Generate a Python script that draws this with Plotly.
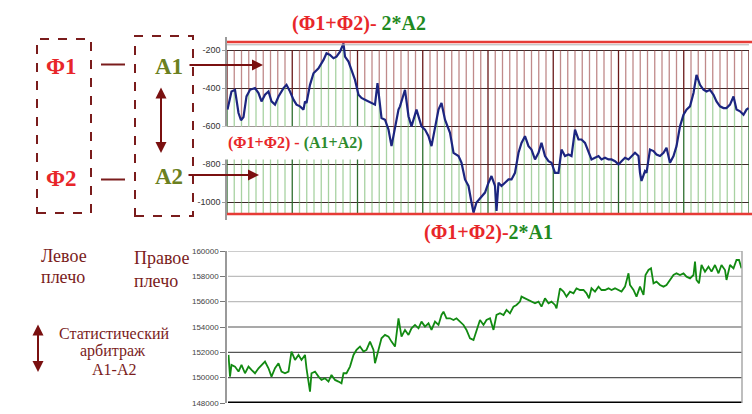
import numpy as np
import plotly.graph_objects as go

# ---------------- data ----------------
# top chart: spread (Φ1+Φ2) - (A1+A2)
top_days = [1, 9, 16, 23, 28, 33, 39, 46, 56, 63, 69, 76, 83, 89, 96, 103, 113, 119, 126, 133,
            139, 146, 153, 156, 159, 166, 173, 183, 193, 199, 206, 213, 219, 226, 233, 236, 243, 249, 256, 263,
            269, 276, 283, 289, 296, 301, 309, 316, 323, 329, 336, 343, 346, 356, 363, 369, 379, 389, 396, 403,
            409, 416, 423, 429, 436, 446, 453, 463, 469, 476, 483, 489, 493, 499, 509, 516, 523, 529, 536, 539,
            543, 549, 556, 563, 569, 576, 583, 589, 596, 603, 609, 616, 623, 629, 636, 643, 649, 656, 663, 669,
            676, 683, 689, 696, 703, 709, 716, 723, 729, 736, 743, 749, 756, 763, 769, 776, 783, 789, 796, 803,
            809, 816, 823, 826, 829, 836, 839, 846, 853, 859, 866, 873, 879, 886, 893, 899, 906, 913, 919, 926,
            933, 939, 946, 953, 959, 966, 973, 979, 986, 993, 999, 1006, 1013, 1019, 1026, 1033, 1039, 1043]
top_spread = [-513, -418, -409, -531, -569, -552, -444, -409, -400, -426, -470, -435, -418, -470, -487, -444, -400, -383, -418, -461,
              -487, -496, -513, -470, -478, -383, -322, -296, -252, -217, -226, -243, -235, -209, -165, -235, -261, -305, -357, -435,
              -452, -461, -470, -478, -487, -374, -557, -566, -618, -705, -600, -513, -496, -409, -548, -601, -513, -601, -618, -653,
              -705, -618, -513, -478, -566, -635, -740, -757, -792, -880, -914, -1001, -1054, -1001, -967, -949, -897, -862, -914, -1045,
              -897, -914, -897, -880, -880, -845, -740, -688, -653, -705, -723, -775, -740, -688, -757, -784, -792, -845, -845, -723,
              -757, -749, -757, -618, -670, -670, -688, -740, -775, -766, -757, -775, -766, -775, -775, -784, -801, -784, -766, -775,
              -757, -740, -757, -845, -888, -836, -845, -723, -731, -749, -757, -740, -714, -792, -757, -705, -601, -540, -513, -496,
              -426, -331, -383, -409, -418, -409, -435, -470, -496, -505, -505, -487, -444, -513, -522, -540, -513, -505]
top_ticks = [-1000, -800, -600, -400, -200]
top_tick_text = ["-1000", "-800", "-600", "-400", "-200"]
upper_band = -158
lower_band = -1061

# bottom chart: equity
bot_days = [1, 4, 7, 14, 21, 27, 34, 41, 47, 54, 61, 67, 74, 81, 87, 94, 101, 107, 114, 121,
            127, 134, 141, 147, 154, 157, 161, 164, 167, 174, 181, 187, 194, 201, 207, 214, 221, 227, 231, 237,
            244, 251, 257, 264, 271, 277, 284, 291, 294, 301, 307, 314, 321, 327, 334, 341, 347, 354, 361, 367,
            374, 381, 387, 394, 401, 407, 414, 421, 427, 431, 437, 444, 451, 457, 464, 471, 477, 484, 491, 497,
            504, 511, 517, 524, 531, 537, 544, 551, 557, 564, 571, 577, 584, 587, 594, 601, 607, 614, 621, 627,
            634, 641, 647, 654, 657, 664, 671, 677, 684, 691, 697, 704, 711, 717, 722, 727, 734, 741, 747, 754,
            761, 767, 774, 781, 787, 794, 801, 804, 811, 817, 824, 831, 835, 841, 846, 851, 857, 864, 871, 877,
            884, 891, 897, 904, 911, 917, 924, 931, 934, 937, 942, 947, 954, 961, 967, 974, 981, 987, 994, 997,
            1004, 1011, 1017, 1022, 1027]
bot_equity = [151795, 150085, 151006, 150874, 150480, 151006, 150348, 150874, 150611, 150348, 150743, 151006, 151269, 150743, 150085, 150743, 151137, 150480, 150348, 150480,
              152058, 151400, 151795, 151400, 151795, 150743, 149822, 148902, 150348, 150480, 150085, 149822, 149954, 149691, 150217, 149822, 149691, 149559, 150348, 150348,
              150874, 151795, 152190, 152453, 152058, 152190, 152848, 152190, 151137, 152321, 153110, 153374, 153242, 152848, 152453, 154688, 153242, 153768, 153374, 153899,
              154162, 153899, 154425, 154030, 154293, 153768, 154425, 154162, 154950, 155213, 154688, 154688, 154556, 154688, 154425, 154162, 153768, 153110, 152979, 153768,
              154556, 154162, 154556, 154688, 153768, 154950, 155082, 154950, 155345, 155082, 155608, 155740, 156003, 156397, 156265, 156134, 156003, 155871, 156003, 155608,
              156265, 155871, 156003, 155740, 155476, 157054, 156792, 156397, 156792, 156660, 157054, 156923, 156923, 156660, 156265, 157054, 156792, 157186, 156923, 156923,
              157054, 156923, 157054, 156923, 156792, 157186, 158238, 157317, 156923, 156397, 157186, 156529, 158107, 158501, 158633, 157449, 157580, 157317, 157186, 157317,
              157712, 158107, 158238, 158107, 158238, 157975, 157843, 158107, 159158, 157712, 157449, 158896, 158370, 158764, 158370, 158896, 158238, 158896, 158501, 157712,
              158896, 158633, 159290, 159290, 158633]
bot_ticks = [148000, 150000, 152000, 154000, 156000, 158000, 160000]
bot_tick_text = ["148000", "150000", "152000", "154000", "156000", "158000", "160000"]

# ---------------- helpers (layout only) ----------------
W, H = 752, 414
def PX(x):
    return x / W
def PY(y):
    return 1 - y / H

MAROON = "#7a1c1c"
RED = "#e8262a"
OLIVE = "#6b8020"
GREEN = "#1f8a1f"
SERIF = "Liberation Serif"
SANS = "Liberation Sans"

fig = go.Figure()

# ---- vertical hatching derived from the spread curve ----
hx = np.arange(0, 1045, 14.5)
hv = np.interp(hx, top_days, top_spread)
def segs(xs, y0s, y1s):
    X, Y = [], []
    for x, a, b in zip(xs, y0s, y1s):
        if b > a:
            X += [x, x, None]
            Y += [a, b, None]
    return X, Y

major = np.arange(len(hx)) % 9 == 0
gx, gy = segs(hx[~major], [lower_band] * int((~major).sum()), hv[~major])
fig.add_trace(go.Scatter(x=gx, y=gy, mode="lines", line=dict(color="rgba(110,180,100,0.6)", width=1.3), hoverinfo="skip"))
gx, gy = segs(hx[major], [lower_band] * int(major.sum()), hv[major])
fig.add_trace(go.Scatter(x=gx, y=gy, mode="lines", line=dict(color="#2f6f2f", width=1.3), hoverinfo="skip"))
rx, ry = segs(hx[~major], hv[~major], [-200] * int((~major).sum()))
fig.add_trace(go.Scatter(x=rx, y=ry, mode="lines", line=dict(color="rgba(150,60,60,0.6)", width=1.3), hoverinfo="skip"))
rx, ry = segs(hx[major], hv[major], [-200] * int(major.sum()))
fig.add_trace(go.Scatter(x=rx, y=ry, mode="lines", line=dict(color="#6a1a1a", width=1.3), hoverinfo="skip"))

# ---- spread line ----
fig.add_trace(go.Scatter(x=top_days, y=top_spread, mode="lines",
                         line=dict(color="#1c2580", width=2.2), hoverinfo="skip"))

# ---- equity line ----
fig.add_trace(go.Scatter(x=bot_days, y=bot_equity, mode="lines", xaxis="x2", yaxis="y2",
                         line=dict(color="#128a12", width=1.8), hoverinfo="skip"))

# top y range from pixel geometry
ppu = 152.3 / 800.0
top_range = [-200 - (220 - 50) / ppu, -200 + (50 - 37) / ppu]

fig.update_layout(
    template="none",
    width=W, height=H,
    margin=dict(l=0, r=0, t=0, b=0),
    paper_bgcolor="white", plot_bgcolor="rgba(0,0,0,0)",
    showlegend=False,
    xaxis=dict(domain=[PX(227), PX(749)], range=[0, 1044], visible=False, fixedrange=True),
    yaxis=dict(domain=[PY(220), PY(37)], range=top_range, tickvals=top_ticks, ticktext=top_tick_text,
               showgrid=True, gridcolor="#3d2a2a", gridwidth=1, zeroline=False,
               showline=True, linecolor="#9a9a9a", linewidth=1.5,
               ticks="outside", ticklen=3, tickcolor="#9a9a9a",
               tickfont=dict(family=SANS, size=9, color="#333333")),
    xaxis2=dict(domain=[PX(228), PX(742)], range=[0, 1028], visible=False, fixedrange=True),
    yaxis2=dict(domain=[PY(403), PY(251)], range=[148000, 160000], tickvals=bot_ticks, ticktext=bot_tick_text,
                showgrid=False, zeroline=False,
                showline=True, linecolor="#9a9a9a", linewidth=1.5,
                ticks="outside", ticklen=5, tickcolor="#777777",
                tickfont=dict(family=SANS, size=8, color="#444444")),
)

shapes = []
# bands on top chart
for v in (upper_band, lower_band):
    shapes.append(dict(type="line", xref="paper", yref="y", x0=PX(227), x1=1.0, y0=v, y1=v,
                       line=dict(color="#e63b36", width=2.5)))
shapes.append(dict(type="line", xref="paper", yref="paper", x0=PX(227), x1=PX(749), y0=PY(44.8), y1=PY(44.8),
                   line=dict(color="#b0b0b0", width=1)))
# bottom chart gridlines
grid_cols = {160000: "#9a9a9a", 158000: "#bdbdbd", 156000: "#bdbdbd", 154000: "#555555",
             152000: "#555555", 150000: "#555555"}
for v, c in grid_cols.items():
    shapes.append(dict(type="line", xref="x2 domain", yref="y2", x0=0, x1=1, y0=v, y1=v,
                       line=dict(color=c, width=1.2), layer="below"))
shapes.append(dict(type="line", xref="x2 domain", yref="y2", x0=0, x1=1, y0=148000, y1=148000,
                   line=dict(color="black", width=3)))
shapes.append(dict(type="line", xref="x2 domain", yref="y2", x0=1, x1=1, y0=148000, y1=160000,
                   line=dict(color="#a8a8a8", width=1.5)))
# dashed boxes
shapes.append(dict(type="rect", xref="paper", yref="paper", x0=PX(37), x1=PX(91), y0=PY(213), y1=PY(39),
                   line=dict(color=MAROON, width=2, dash="dash")))
shapes.append(dict(type="rect", xref="paper", yref="paper", x0=PX(135), x1=PX(193), y0=PY(216), y1=PY(36),
                   line=dict(color=MAROON, width=2, dash="dash")))
# short connectors
for yy in (64.5, 179.5):
    shapes.append(dict(type="line", xref="paper", yref="paper", x0=PX(101), x1=PX(125), y0=PY(yy), y1=PY(yy),
                       line=dict(color=MAROON, width=2)))
fig.update_layout(shapes=shapes)

ann = []
def txt(x, y, t, size, color, bold=False, xanchor="center", family=SERIF, **kw):
    if bold:
        t = "<b>" + t + "</b>"
    ann.append(dict(xref="paper", yref="paper", x=PX(x), y=PY(y), text=t, showarrow=False,
                    xanchor=xanchor, yanchor="middle",
                    font=dict(family=family, size=size, color=color), **kw))

def arrow(x_head, y_head, x_tail, y_tail, double=False):
    d = dict(xref="paper", yref="paper", x=PX(x_head), y=PY(y_head), ax=x_tail - x_head, ay=y_tail - y_head,
             axref="pixel", ayref="pixel", text="", showarrow=True, arrowhead=2, arrowsize=1.1,
             arrowwidth=2, arrowcolor="#7a1010", standoff=0, startstandoff=0)
    if double:
        d.update(arrowside="end+start", startarrowhead=2, startarrowsize=1.1)
    ann.append(d)

# titles
txt(359, 23, f"<span style='color:{RED}'>(Φ1+Φ2)-</span><span style='color:{GREEN}'> 2*A2</span>", 20, RED, bold=True)
txt(488, 232, f"<span style='color:{RED}'>(Φ1+Φ2)-</span><span style='color:{GREEN}'>2*A1</span>", 20, RED, bold=True)
# middle label with white halo
ann.append(dict(xref="paper", yref="paper", x=PX(295), y=PY(143), showarrow=False,
                text=f"<b><span style='color:{RED}'>(Φ1+Φ2) - </span><span style='color:#2e8b2e'>(A1+A2)</span></b>",
                font=dict(family=SERIF, size=16, color=RED), bgcolor="white", borderpad=7,
                xanchor="center", yanchor="middle"))
# left diagram
txt(61, 66, "Φ1", 23, RED, bold=True)
txt(61, 178, "Φ2", 23, RED, bold=True)
txt(169, 66, "A1", 23, OLIVE, bold=True)
txt(169, 176, "A2", 23, OLIVE, bold=True)
arrow(263, 65, 188, 65)
arrow(259, 175, 187, 175)
arrow(161, 153, 161, 86, double=True)
# lower-left texts
txt(39, 256, "Левое", 18, MAROON, xanchor="left")
txt(39, 277, "плечо", 18, MAROON, xanchor="left")
txt(132, 258, "Правое", 18, MAROON, xanchor="left")
txt(132, 281, "плечо", 18, MAROON, xanchor="left")
arrow(38, 372, 38, 323, double=True)
txt(114, 333, "Статистический", 16, MAROON)
txt(113, 351, "арбитраж", 16, MAROON)
txt(114, 369, "A1-A2", 16, MAROON)

fig.update_layout(annotations=ann)
fig.write_html("out.html", config={"displayModeBar": False},
               post_script="document.body.style.margin='0px';document.body.style.overflow='hidden';")
